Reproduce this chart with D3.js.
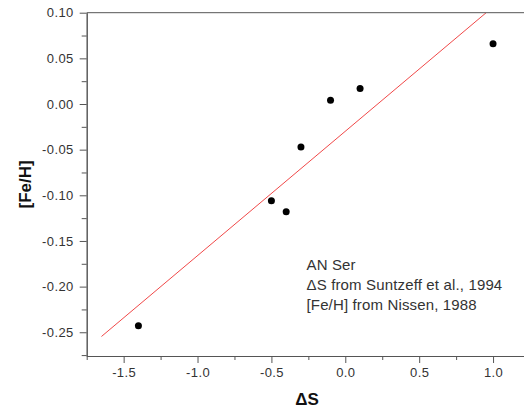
<!DOCTYPE html>
<html>
<head>
<meta charset="utf-8">
<script src="https://cdn.jsdelivr.net/npm/d3@7"></script>
<style>
  body { margin: 0; background: #fff; }
  svg { display: block; font-family: "Liberation Sans", Arial, sans-serif; }
</style>
</head>
<body>
<div id="chart"></div>
<script>
'use strict';

// AN Ser: Delta S vs [Fe/H]
const deltaS = [-1.4, -0.5, -0.4, -0.3, -0.1, 0.1, 1.0];
const feH = [-0.243, -0.106, -0.118, -0.047, 0.004, 0.017, 0.066];
const xTicks = [-1.5, -1.0, -0.5, 0.0, 0.5, 1.0];
const yTicks = [0.10, 0.05, 0.00, -0.05, -0.10, -0.15, -0.20, -0.25];
const fitStart = -1.65;
const notes = ['AN Ser', '\u0394S from Suntzeff et al., 1994', '[Fe/H] from Nissen, 1988'];

const width = 524, height = 409;
const margin = { left: 86.7, top: 12.7, right: -6, bottom: 53 };

const svg = d3.select('#chart').append('svg')
  .attr('width', width)
  .attr('height', height);

const x = d3.scaleLinear()
  .domain([-1.75, 1.25])
  .range([margin.left, width - margin.right]);
const y = d3.scaleLinear()
  .domain([-0.276, 0.10])
  .range([height - margin.bottom, margin.top]);

// least squares fit
const mx = d3.mean(deltaS), my = d3.mean(feH);
const sxy = d3.sum(deltaS, (d, i) => (d - mx) * (feH[i] - my));
const sxx = d3.sum(deltaS, (d) => (d - mx) * (d - mx));
const slope = sxy / sxx;
const icpt = my - slope * mx;
const fitEnd = (y.domain()[1] - icpt) / slope;

svg.append('defs').append('clipPath').attr('id', 'clip')
  .append('rect')
    .attr('x', margin.left).attr('y', margin.top)
    .attr('width', x.range()[1] - margin.left)
    .attr('height', y.range()[0] - margin.top);

svg.append('line')
  .attr('clip-path', 'url(#clip)')
  .attr('x1', x(fitStart)).attr('y1', y(icpt + slope * fitStart))
  .attr('x2', x(fitEnd)).attr('y2', y(icpt + slope * fitEnd))
  .attr('stroke', '#f04848')
  .attr('stroke-width', 1);

svg.append('g')
  .selectAll('circle')
  .data(deltaS)
  .enter().append('circle')
    .attr('cx', (d) => x(d))
    .attr('cy', (d, i) => y(feH[i]))
    .attr('r', 3.5)
    .attr('fill', '#000');

const axisColor = '#555';
// plain hyphen for negatives, like the original
const fmt = (p) => (d) => d3.format(p)(d).replace('\u2212', '-');

// minor ticks
const xMinor = xTicks.map((d) => d + 0.25).concat([-1.75]);
const yMinor = yTicks.map((d) => d - 0.025);

const xAxis = svg.append('g')
  .attr('transform', `translate(0,${y.range()[0]})`);
xAxis.call(d3.axisBottom(x).tickValues(xMinor).tickSize(4).tickSizeOuter(0).tickFormat(''));
xAxis.append('g').call(d3.axisBottom(x).tickValues(xTicks).tickSize(7).tickSizeOuter(0)
  .tickPadding(5).tickFormat(fmt('.1f')));

const yAxis = svg.append('g')
  .attr('transform', `translate(${margin.left},0)`);
yAxis.call(d3.axisLeft(y).tickValues(yMinor).tickSize(5).tickSizeOuter(0).tickFormat(''));
yAxis.append('g').call(d3.axisLeft(y).tickValues(yTicks).tickSize(7).tickSizeOuter(0)
  .tickPadding(6).tickFormat(fmt('.2f')));

svg.selectAll('.domain').attr('stroke', axisColor);
svg.selectAll('.tick line').attr('stroke', axisColor);
svg.selectAll('.tick text')
  .attr('fill', '#333')
  .style('font-size', '13px')
  .style('letter-spacing', '0.4px')
  .style('font-family', '"Liberation Sans", Arial, sans-serif');

// top frame line
svg.append('line')
  .attr('x1', margin.left).attr('x2', width)
  .attr('y1', margin.top).attr('y2', margin.top)
  .attr('stroke', axisColor);

svg.append('text')
  .attr('transform', `translate(25,${(y.range()[0] + margin.top) / 2}) rotate(-90)`)
  .attr('text-anchor', 'middle')
  .attr('dy', '0.35em')
  .style('font-size', '17px')
  .style('font-weight', 'bold')
  .attr('fill', '#111')
  .text('[Fe/H]');

svg.append('text')
  .attr('x', 307).attr('y', 405)
  .attr('text-anchor', 'middle')
  .style('font-size', '17px')
  .style('font-weight', 'bold')
  .attr('fill', '#111')
  .text('\u0394S');

svg.append('g')
  .selectAll('text')
  .data(notes)
  .enter().append('text')
    .attr('x', 306.5)
    .attr('y', (d, i) => 269.5 + i * 20.3)
    .style('font-size', '15px')
    .style('letter-spacing', '0.15px')
    .attr('fill', '#333')
    .text((d) => d);
</script>
</body>
</html>
